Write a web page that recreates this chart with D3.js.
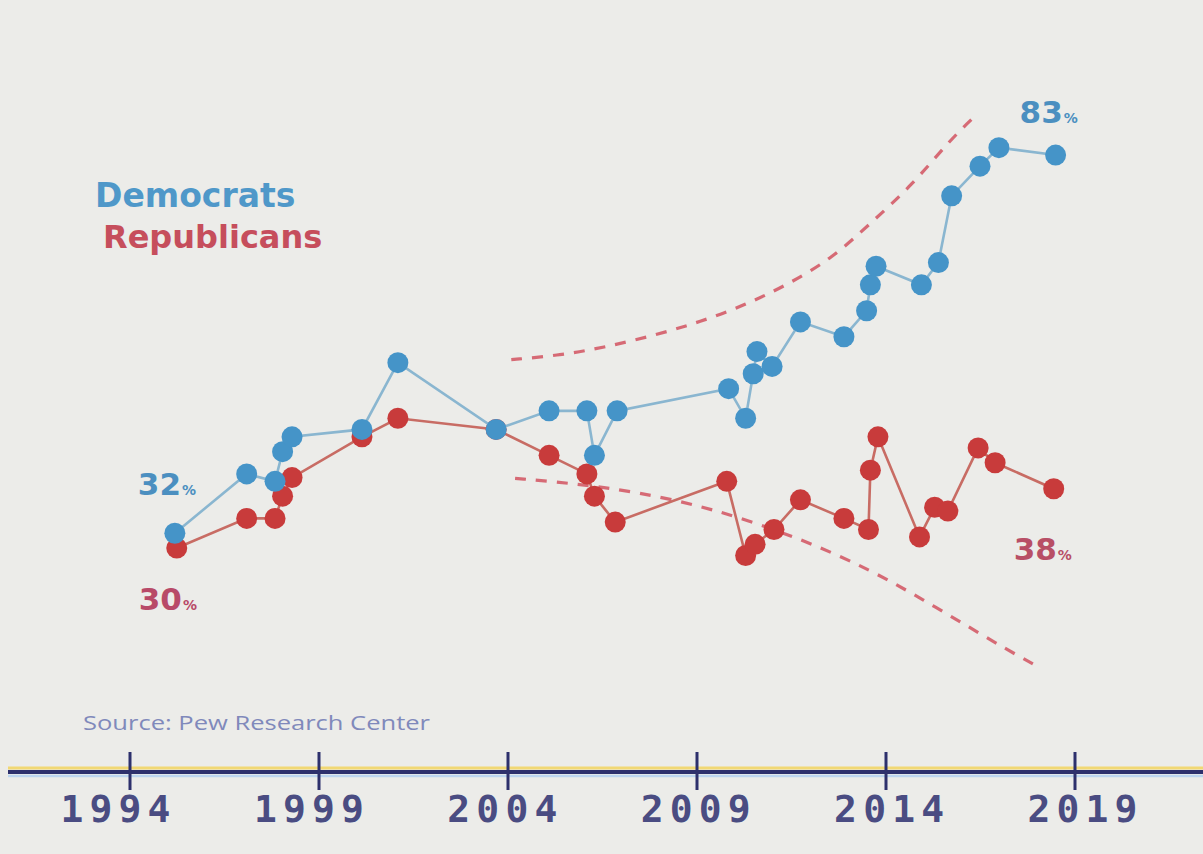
<!DOCTYPE html>
<html>
<head>
<meta charset="utf-8">
<script src="https://cdn.jsdelivr.net/npm/d3@7"></script>
<style>
  html, body { margin: 0; padding: 0; background: #ecece9; }
  svg { display: block; }
</style>
</head>
<body>
<svg id="chart" width="1203" height="854"></svg>
<script>
// Share of partisans holding the view, by survey date
const demYears  = [1995.2, 1997.1, 1997.85, 1998.05, 1998.3, 2000.15, 2001.1, 2003.7, 2005.1, 2006.1, 2006.3, 2006.9,
                   2009.85, 2010.3, 2010.5, 2010.6, 2011.0, 2011.75, 2012.9, 2013.5, 2013.6, 2013.75, 2014.95, 2015.4,
                   2015.75, 2016.5, 2017.0, 2018.5];
const demValues = [32, 40, 39, 43, 45, 46, 55, 46, 48.5, 48.5, 42.5, 48.5,
                   51.5, 47.5, 53.5, 56.5, 54.5, 60.5, 58.5, 62, 65.5, 68, 65.5, 68.5,
                   77.5, 81.5, 84, 83];

const repYears  = [1995.25, 1997.1, 1997.85, 1998.05, 1998.3, 2000.15, 2001.1, 2003.7, 2005.1, 2006.1, 2006.3, 2006.85,
                   2009.8, 2010.3, 2010.55, 2011.05, 2011.75, 2012.9, 2013.55, 2013.6, 2013.8, 2014.9, 2015.3, 2015.65,
                   2016.45, 2016.9, 2018.45];
const repValues = [30, 34, 34, 37, 39.5, 45, 47.5, 46, 42.5, 40, 37, 33.5,
                   39, 29, 30.5, 32.5, 36.5, 34, 32.5, 40.5, 45, 31.5, 35.5, 35,
                   43.5, 41.5, 38];

// Hand-drawn widening guides (year, percent)
const upperGuideYears  = [2004.1, 2005.4, 2006.6, 2007.9, 2009.1, 2010.3, 2011.4, 2012.6, 2013.6, 2014.7, 2015.7, 2016.4];
const upperGuideValues = [55.4, 56.0, 57.1, 58.7, 60.5, 62.8, 65.5, 69.1, 73.8, 78.9, 85.0, 88.4];
const lowerGuideYears  = [2004.2, 2005.6, 2007.4, 2009.4, 2011.7, 2013.6, 2015.25, 2016.9, 2018.1];
const lowerGuideValues = [39.4, 38.8, 37.6, 35.4, 31.4, 27.1, 22.3, 17.2, 13.8];

const tickYears = [1994, 1999, 2004, 2009, 2014, 2019];
const seriesNames = ["Democrats", "Republicans"];
const sourceText = "Source: Pew Research Center";

const W = 1203, H = 854;
const svg = d3.select("#chart");

const x = d3.scaleLinear().domain([1994, 2019]).range([129.5, 1074.5]);
const y = d3.scaleLinear().domain([0, 100]).range([770.5, 29]);
// tick labels sit on a slightly wider spread than the tick marks
const xLabel = d3.scaleLinear().domain([1994, 2019]).range([115, 1082]);

const C = {
  demDot: "#4594c8", demLine: "#8ab6d0", demText: "#4f98c9",
  repDot: "#c83b3b", repLine: "#c86c64", repText: "#c64e5c",
  guide: "#d45c68", axis: "#2d306c", tickText: "#4a4c82", source: "#8089bb"
};

svg.append("rect").attr("width", W).attr("height", H).attr("fill", "#ecece9");

const zip = (xs, vs) => xs.map((t, i) => ({ t, v: vs[i] }));
const dem = zip(demYears, demValues);
const rep = zip(repYears, repValues);

// guides
const guideLine = d3.line().x(d => x(d.t)).y(d => y(d.v)).curve(d3.curveBasis);
[zip(upperGuideYears, upperGuideValues), zip(lowerGuideYears, lowerGuideValues)].forEach(g => {
  svg.append("path").attr("d", guideLine(g))
    .attr("fill", "none").attr("stroke", C.guide).attr("stroke-width", 3.2)
    .attr("stroke-dasharray", "11 10").attr("opacity", 0.9);
});

const line = d3.line().x(d => x(d.t)).y(d => y(d.v));

function drawSeries(data, lineColor, dotColor) {
  svg.append("path").attr("d", line(data))
    .attr("fill", "none").attr("stroke", lineColor).attr("stroke-width", 2.6);
  svg.append("g").selectAll("circle").data(data).join("circle")
    .attr("cx", d => x(d.t)).attr("cy", d => y(d.v)).attr("r", 10.5)
    .attr("fill", dotColor);
}
drawSeries(rep, C.repLine, C.repDot);
drawSeries(dem, C.demLine, C.demDot);

// legend
const legend = svg.append("g").attr("font-family", "DejaVu Sans").attr("font-weight", "bold");
legend.append("text").attr("x", 95).attr("y", 207).attr("font-size", 33)
  .attr("fill", C.demText).text(seriesNames[0]);
legend.append("text").attr("x", 103).attr("y", 248).attr("font-size", 32)
  .attr("fill", C.repText).text(seriesNames[1]);

// end value labels
function valueLabel(px, py, value, color) {
  const t = svg.append("text").attr("x", px).attr("y", py)
    .attr("font-family", "DejaVu Sans").attr("font-weight", "bold")
    .attr("font-size", 31).attr("fill", color);
  t.append("tspan").text(d3.format("d")(value));
  t.append("tspan").attr("font-size", 14).attr("dx", 1).text("%");
}
const d0 = dem[0], dN = dem[dem.length - 1], r0 = rep[0], rN = rep[rep.length - 1];
valueLabel(x(d0.t) - 37, y(d0.v) - 38, d0.v, "#4b8fc0");
valueLabel(x(r0.t) - 38, y(r0.v) + 62, r0.v, "#b84a68");
valueLabel(x(dN.t) - 36, y(dN.v) - 32, dN.v, "#4b8fc0");
valueLabel(x(rN.t) - 40, y(rN.v) + 71, rN.v, "#b84f66");

// source
svg.append("text").attr("x", 83).attr("y", 730)
  .attr("font-family", "Open Sans").attr("font-size", 20)
  .attr("textLength", 347).attr("lengthAdjust", "spacingAndGlyphs")
  .attr("fill", C.source).text(sourceText);

// axis: colored fringe lines and the dark baseline
const axisY = y(0) + 1.5;
svg.append("line").attr("x1", 8).attr("x2", W).attr("y1", axisY - 4).attr("y2", axisY - 4)
  .attr("stroke", "#f1d874").attr("stroke-width", 3);
svg.append("line").attr("x1", 8).attr("x2", W).attr("y1", axisY + 4).attr("y2", axisY + 4)
  .attr("stroke", "#bcd5ef").attr("stroke-width", 2.5);
svg.append("line").attr("x1", 8).attr("x2", W).attr("y1", axisY).attr("y2", axisY)
  .attr("stroke", C.axis).attr("stroke-width", 4);

const axis = d3.axisBottom(x).tickValues(tickYears).tickFormat(d3.format("d")).tickSize(18);
const ag = svg.append("g").attr("transform", `translate(0,${axisY})`).call(axis);
ag.select(".domain").remove();
ag.selectAll(".tick line").attr("y1", -20).attr("y2", 18)
  .attr("stroke", C.axis).attr("stroke-width", 3);
ag.selectAll(".tick text")
  .attr("x", d => xLabel(d) - x(d))
  .attr("y", 50).attr("dy", 0)
  .attr("font-family", "DejaVu Sans Mono").attr("font-weight", "bold")
  .attr("font-size", 38).attr("fill", C.tickText)
  .attr("textLength", 110).attr("lengthAdjust", "spacing");
</script>
</body>
</html>
